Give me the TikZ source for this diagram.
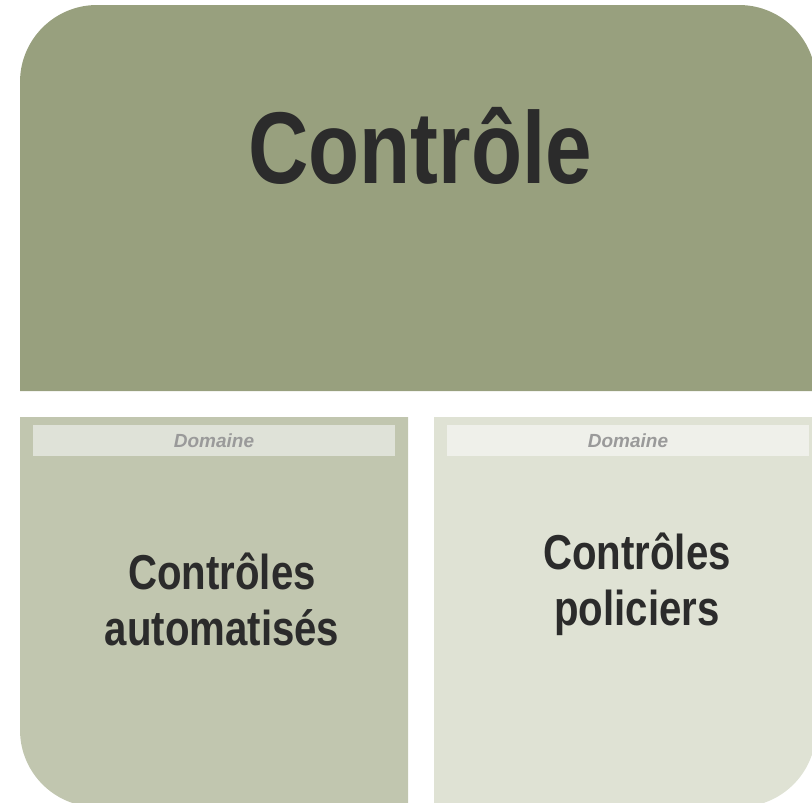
\documentclass[tikz,border=0pt]{standalone}
\usepackage{fontspec}
\setmainfont{Liberation Sans}
\usetikzlibrary{positioning}

\definecolor{topgreen}{HTML}{98A07E}
\definecolor{leftgreen}{HTML}{C1C6AF}
\definecolor{leftbar}{HTML}{DFE2D8}
\definecolor{rightgreen}{HTML}{DFE2D4}
\definecolor{rightbar}{HTML}{EFF0EA}
\definecolor{inkdark}{HTML}{2B2B2B}
\definecolor{inkgray}{HTML}{9A9A9A}

\tikzset{
  domainbar/.style={inner sep=0pt, minimum width=362pt, minimum height=31pt,
    font=\fontsize{19}{21}\selectfont\bfseries\itshape, text=inkgray},
  bigtitle/.style={font=\fontsize{102}{102}\selectfont\bfseries, text=inkdark, inner sep=0pt},
  subtitle/.style={font=\fontsize{49}{56}\selectfont\bfseries, text=inkdark, align=center, inner sep=0pt}
}

\begin{document}
\begin{tikzpicture}[x=1pt,y=-1pt]
\useasboundingbox (0,0) rectangle (812,803);

% top block
\fill[topgreen] (20,391) [rounded corners=77pt] -- (20,5) -- (816,5) [sharp corners] -- (816,391) -- cycle;
\node[bigtitle, anchor=base] (ctrl) at (420,183) {\scalebox{0.82}[1]{Contrôle}};

% left block
\fill[leftgreen] (408,417) -- (20,417) [rounded corners=77pt] -- (20,807) [sharp corners] -- (408,807) -- cycle;
\node[domainbar, fill=leftbar] (dleft) at (214,440.5) {Domaine};
\node[subtitle, anchor=base] (auto) at (222,645) {\scalebox{0.82}[1]{Contrôles}\\\scalebox{0.82}[1]{automatisés}};

% right block
\fill[rightgreen] (434,807) -- (434,417) -- (816,417) [rounded corners=77pt] -- (816,807) [sharp corners] -- cycle;
\node[domainbar, fill=rightbar] (dright) at (628,440.5) {Domaine};
\node[subtitle, anchor=base] (police) at (637,625) {\scalebox{0.82}[1]{Contrôles}\\\scalebox{0.82}[1]{policiers}};
\end{tikzpicture}
\end{document}
